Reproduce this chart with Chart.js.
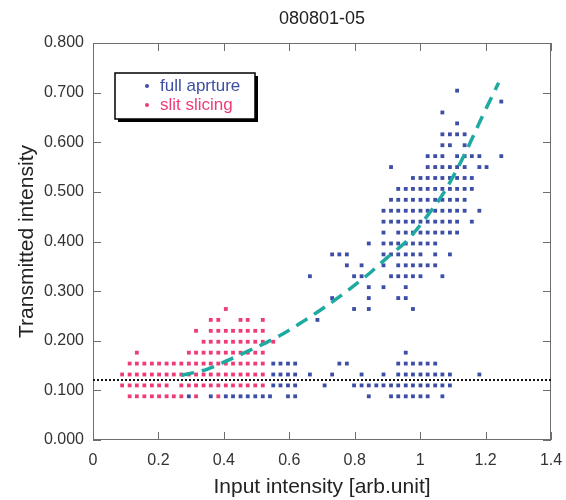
<!DOCTYPE html>
<html>
<head>
<meta charset="utf-8">
<script src="https://cdn.jsdelivr.net/npm/chart.js@4.4.0/dist/chart.umd.min.js"></script>
<style>
  html, body { margin: 0; padding: 0; background: #fff; }
  #wrap { width: 566px; height: 500px; }
</style>
</head>
<body>
<div id="wrap"><canvas id="chart" width="566" height="500"></canvas></div>
<script>
// transmitted intensity levels (rows of the scatter grid)
const rowLevels = [0.088, 0.110, 0.132, 0.154, 0.176, 0.198, 0.220, 0.242, 0.264, 0.286,
                   0.308, 0.330, 0.352, 0.374, 0.396, 0.418, 0.440, 0.462, 0.484, 0.506,
                   0.528, 0.550, 0.572, 0.594, 0.616, 0.638, 0.660, 0.682, 0.704];

// input intensity of each point, one list per row level
const fullApertureRows = [
  [0.293, 0.360, 0.406, 0.428, 0.451, 0.473, 0.496, 0.519, 0.541, 0.596, 0.618, 0.843, 0.911, 0.933, 0.956, 0.978, 1.001, 1.023, 1.068],
  [0.551, 0.573, 0.596, 0.618, 0.708, 0.798, 0.821, 0.843, 0.866, 0.888, 0.911, 0.933, 0.956, 0.978, 1.001, 1.023, 1.046, 1.068, 1.091],
  [0.551, 0.573, 0.596, 0.618, 0.663, 0.731, 0.821, 0.888, 0.933, 0.956, 0.978, 1.001, 1.023, 1.046, 1.068, 1.091, 1.181],
  [0.551, 0.573, 0.596, 0.618, 0.753, 0.776, 0.933, 0.956, 0.978, 1.001, 1.023, 1.046],
  [0.956],
  [],
  [],
  [0.686],
  [0.798, 0.843, 0.978],
  [0.731, 0.843, 0.933, 0.956],
  [0.843, 0.888, 0.956],
  [0.663, 0.798, 0.821, 0.911, 0.933, 0.956, 0.978, 1.001, 1.068],
  [0.776, 0.821, 0.888, 0.933, 0.956, 0.978, 1.001, 1.023, 1.046],
  [0.731, 0.753, 0.776, 0.888, 0.911, 0.933, 0.956, 0.978, 1.001, 1.046, 1.091],
  [0.843, 0.888, 0.911, 0.933, 0.956, 0.978, 1.001, 1.023, 1.046],
  [0.888, 0.933, 0.956, 0.978, 1.001, 1.023, 1.046, 1.068, 1.091, 1.113],
  [0.888, 0.911, 0.933, 0.956, 0.978, 1.001, 1.023, 1.046, 1.068, 1.091, 1.113, 1.158],
  [0.888, 0.911, 0.933, 0.956, 0.978, 1.001, 1.023, 1.046, 1.068, 1.091, 1.113, 1.136, 1.181],
  [0.911, 0.933, 0.956, 0.978, 1.001, 1.023, 1.046, 1.068, 1.091, 1.113, 1.136],
  [0.933, 0.956, 0.978, 1.001, 1.023, 1.046, 1.068, 1.091, 1.113, 1.136, 1.158],
  [0.978, 1.001, 1.023, 1.046, 1.068, 1.091, 1.113, 1.136, 1.158],
  [0.911, 1.023, 1.046, 1.068, 1.091, 1.113, 1.136, 1.181, 1.203],
  [1.023, 1.046, 1.068, 1.113, 1.136, 1.158, 1.181, 1.248],
  [1.068, 1.091, 1.136],
  [1.068, 1.091, 1.113, 1.136],
  [1.113],
  [1.068],
  [1.248],
  [1.113]
];

const slitSlicingRows = [
  [0.112, 0.134, 0.157, 0.180, 0.202, 0.225, 0.247, 0.270, 0.315, 0.383],
  [0.089, 0.112, 0.134, 0.157, 0.180, 0.202, 0.225, 0.270, 0.293, 0.315, 0.338, 0.360, 0.383, 0.406, 0.428, 0.451, 0.473, 0.496, 0.519],
  [0.089, 0.112, 0.134, 0.157, 0.180, 0.202, 0.225, 0.247, 0.270, 0.293, 0.315, 0.338, 0.360, 0.383, 0.406, 0.428, 0.451, 0.473, 0.496, 0.519],
  [0.112, 0.134, 0.157, 0.180, 0.202, 0.225, 0.247, 0.270, 0.293, 0.315, 0.338, 0.360, 0.383, 0.406, 0.428, 0.451, 0.473, 0.496, 0.519],
  [0.134, 0.293, 0.315, 0.338, 0.360, 0.383, 0.406, 0.428, 0.451, 0.473, 0.496, 0.519],
  [0.338, 0.360, 0.383, 0.406, 0.428, 0.451, 0.473, 0.496, 0.519, 0.551],
  [0.315, 0.360, 0.383, 0.406, 0.428, 0.451, 0.473, 0.496, 0.519],
  [0.360, 0.383, 0.451, 0.473, 0.519],
  [0.406]
];

// fitted curve (dashed)
const fitX = [0.27, 0.35, 0.43, 0.50, 0.57, 0.64, 0.70, 0.77, 0.84, 0.90, 0.96, 1.02, 1.07, 1.11, 1.15, 1.19, 1.24];
const fitY = [0.130, 0.143, 0.166, 0.187, 0.210, 0.238, 0.264, 0.297, 0.333, 0.368, 0.402, 0.450, 0.496, 0.542, 0.595, 0.652, 0.720];

// dotted reference level
const levelX = [0, 1.4];
const levelY = [0.121, 0.121];

const seriesNames = ['full aprture', 'slit slicing'];
const BLUE = '#3c4ea5';
const PINK = '#ee3d76';

function rowsToPoints(rows) {
  const pts = [];
  rows.forEach((xs, i) => xs.forEach(x => pts.push({ x: x, y: rowLevels[i] })));
  return pts;
}

Chart.defaults.font.family = "'Liberation Sans', Arial, sans-serif";
Chart.defaults.color = '#333';

const frameTicks = {
  id: 'frameTicks',
  beforeDatasetsDraw(chart) {
    const { ctx, chartArea: a, scales: { x, y } } = chart;
    ctx.save();
    ctx.strokeStyle = '#6e6e6e';
    ctx.lineWidth = 1;
    ctx.strokeRect(a.left + 0.5, a.top + 0.5, a.right - a.left - 1, a.bottom - a.top - 1);
    ctx.beginPath();
    x.ticks.forEach(t => {
      const px = Math.round(x.getPixelForValue(t.value)) + 0.5;
      ctx.moveTo(px, a.bottom); ctx.lineTo(px, a.bottom - 8);
      ctx.moveTo(px, a.top); ctx.lineTo(px, a.top + 8);
    });
    y.ticks.forEach(t => {
      const py = Math.round(y.getPixelForValue(t.value)) + 0.5;
      ctx.moveTo(a.left, py); ctx.lineTo(a.left + 8, py);
      ctx.moveTo(a.right, py); ctx.lineTo(a.right - 8, py);
    });
    ctx.stroke();
    ctx.restore();
  }
};

const boxLegend = {
  id: 'boxLegend',
  afterDraw(chart) {
    const { ctx, chartArea: a } = chart;
    const bx = a.left + 22, by = a.top + 30, bw = 140, bh = 46;
    ctx.save();
    ctx.fillStyle = '#000';
    ctx.fillRect(bx + 3, by + 3, bw, bh);
    ctx.fillStyle = '#fff';
    ctx.fillRect(bx, by, bw, bh);
    ctx.strokeStyle = '#000';
    ctx.lineWidth = 1.5;
    ctx.strokeRect(bx, by, bw, bh);
    ctx.font = "17px 'Liberation Sans', Arial, sans-serif";
    ctx.textBaseline = 'middle';
    [BLUE, PINK].forEach((c, i) => {
      const cy = by + 13 + i * 19;
      ctx.fillStyle = c;
      ctx.beginPath();
      ctx.arc(bx + 32, cy, 2, 0, Math.PI * 2);
      ctx.fill();
      ctx.fillText(seriesNames[i], bx + 45, cy);
    });
    ctx.restore();
  }
};

new Chart(document.getElementById('chart'), {
  type: 'scatter',
  data: {
    datasets: [
      {
        type: 'line',
        label: 'fit',
        data: fitX.map((x, i) => ({ x: x, y: fitY[i] })),
        borderColor: '#1ea9a1',
        borderWidth: 3.5,
        borderDash: [13, 8],
        pointRadius: 0,
        cubicInterpolationMode: 'monotone',
        fill: false
      },
      {
        type: 'line',
        label: 'level',
        data: levelX.map((x, i) => ({ x: x, y: levelY[i] })),
        borderColor: '#111',
        borderWidth: 2,
        borderDash: [2, 2],
        pointRadius: 0,
        fill: false
      },
      {
        label: seriesNames[1],
        data: rowsToPoints(slitSlicingRows),
        backgroundColor: PINK,
        borderWidth: 0,
        pointRadius: 2.7,
        pointStyle: 'rect'
      },
      {
        label: seriesNames[0],
        data: rowsToPoints(fullApertureRows),
        backgroundColor: BLUE,
        borderWidth: 0,
        pointRadius: 2.7,
        pointStyle: 'rect'
      }
    ]
  },
  options: {
    responsive: false,
    animation: false,
    layout: { padding: { left: 0, right: 15, top: 0, bottom: 0 } },
    plugins: {
      legend: { display: false },
      tooltip: { enabled: false },
      title: {
        display: true,
        text: '080801-05',
        fullSize: false,
        color: '#222',
        font: { size: 18, weight: 'normal' },
        padding: { top: 8, bottom: 13.4 }
      }
    },
    scales: {
      x: {
        type: 'linear',
        min: 0,
        max: 1.4,
        grid: { display: false, drawTicks: false },
        border: { display: false },
        ticks: {
          stepSize: 0.2,
          padding: 11,
          font: { size: 16 },
          callback: v => String(Number(v.toFixed(1)))
        },
        title: {
          display: true,
          text: 'Input intensity [arb.unit]',
          color: '#222',
          font: { size: 21 },
          padding: { top: 0, bottom: 0 }
        },
        afterFit: s => { s.height = 60; s.paddingLeft = 0; s.paddingRight = 0; }
      },
      y: {
        type: 'linear',
        min: 0,
        max: 0.8,
        grid: { display: false, drawTicks: false },
        border: { display: false },
        ticks: {
          stepSize: 0.1,
          padding: 9,
          font: { size: 16 },
          callback: v => v.toFixed(3)
        },
        title: {
          display: true,
          text: 'Transmitted intensity',
          color: '#222',
          font: { size: 21 },
          padding: { top: 15, bottom: 0 }
        },
        afterFit: s => { s.width = 93; }
      }
    }
  },
  plugins: [frameTicks, boxLegend]
});
</script>
</body>
</html>
